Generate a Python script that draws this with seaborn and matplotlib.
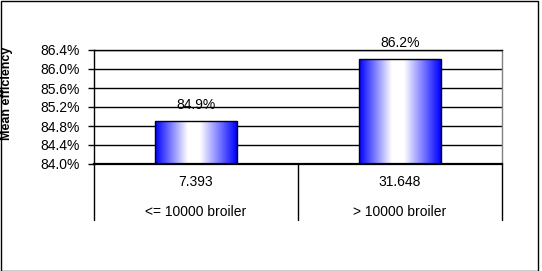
import numpy as np
import pandas as pd
import matplotlib
matplotlib.use("Agg")
import matplotlib.pyplot as plt
import seaborn as sns
from matplotlib.colors import LinearSegmentedColormap
from matplotlib.ticker import FuncFormatter, FixedLocator
from matplotlib.patches import Rectangle
from matplotlib.transforms import blended_transform_factory

categories = ["<= 10000 broiler", "> 10000 broiler"]
counts = ["7.393", "31.648"]
mean_eff = [84.9, 86.2]
y_ticks = [84.0, 84.4, 84.8, 85.2, 85.6, 86.0, 86.4]

sns.set_theme(style="white")
plt.rcParams['font.family'] = ['Liberation Sans', 'DejaVu Sans']

fig = plt.figure(figsize=(5.42, 2.71), dpi=100)
ax = fig.add_axes([94/542, 107/271, 408/542, 114/271])
df = pd.DataFrame({"cat": categories, "val": mean_eff})
sns.barplot(data=df, x="cat", y="val", ax=ax, width=0.4, color="blue",
            edgecolor="black", linewidth=1, zorder=3)
ax.set_ylim(y_ticks[0], y_ticks[-1])
ax.yaxis.set_major_locator(FixedLocator(y_ticks))
ax.yaxis.set_major_formatter(FuncFormatter(lambda v, p: f"{v:.1f}%"))

# gradient fill
cmap = LinearSegmentedColormap.from_list(
    "bw", [(0, (0, 0, 1)), (0.40, (1, 1, 1)), (0.55, (1, 1, 1)), (1, (0, 0, 1))])
grad = np.linspace(0, 1, 256).reshape(1, -1)
ylo = ax.get_ylim()[0]
for p in ax.patches:
    x0 = p.get_x(); w = p.get_width(); top = p.get_y() + p.get_height()
    p.set_facecolor("none")
    im = ax.imshow(grad, cmap=cmap, aspect="auto", extent=(x0, x0 + w, ylo, top),
                   zorder=2.5, interpolation="bilinear")
    im.set_clip_path(p)
ax.set_xlim(-0.5, 1.5)
ax.set_ylim(y_ticks[0], y_ticks[-1])

ax.bar_label(ax.containers[0], labels=[f"{v:.1f}%" for v in mean_eff],
             padding=7, fontsize=10, color="black")

ax.yaxis.grid(True, color="black", lw=1)
ax.set_axisbelow(True)
for s in ["left", "top"]:
    ax.spines[s].set_color("black"); ax.spines[s].set_linewidth(1)
ax.spines["bottom"].set_color("black"); ax.spines["bottom"].set_linewidth(1.6)
ax.spines["right"].set_color("#808080"); ax.spines["right"].set_linewidth(1)

ax.tick_params(axis="y", left=True, length=4, width=1, color="black",
               labelsize=10, pad=6, labelcolor="black")
ax.set_xticks(range(len(categories)))
ax.set_xticklabels([])
ax.tick_params(axis="x", length=0)
ax.set_xlabel(""); ax.set_ylabel("")

tr = blended_transform_factory(ax.transData, ax.transAxes)
for i, (c, cat) in enumerate(zip(counts, categories)):
    ax.text(i, -18.5/114, c, transform=tr, ha="center", va="center",
            fontsize=10, color="black")
    ax.text(i, -47.5/114, cat, transform=tr, ha="center", va="center",
            fontsize=10, color="black")

for xa in [0, 0.5, 1]:
    ax.plot([xa, xa], [0, -56/114], transform=ax.transAxes, clip_on=False,
            color="black", lw=1)

fig.text(7.5/542, 0.655, "Mean efficiency", rotation=90, ha="center", va="center",
         fontsize=9, fontweight="bold", color="black")
fig.patches.append(Rectangle((0.5/542, 0.5/271), 537.5/542, 270/271,
                             transform=fig.transFigure, fill=False,
                             ec="black", lw=1))

fig.savefig("out.png", dpi=100, facecolor="white")
